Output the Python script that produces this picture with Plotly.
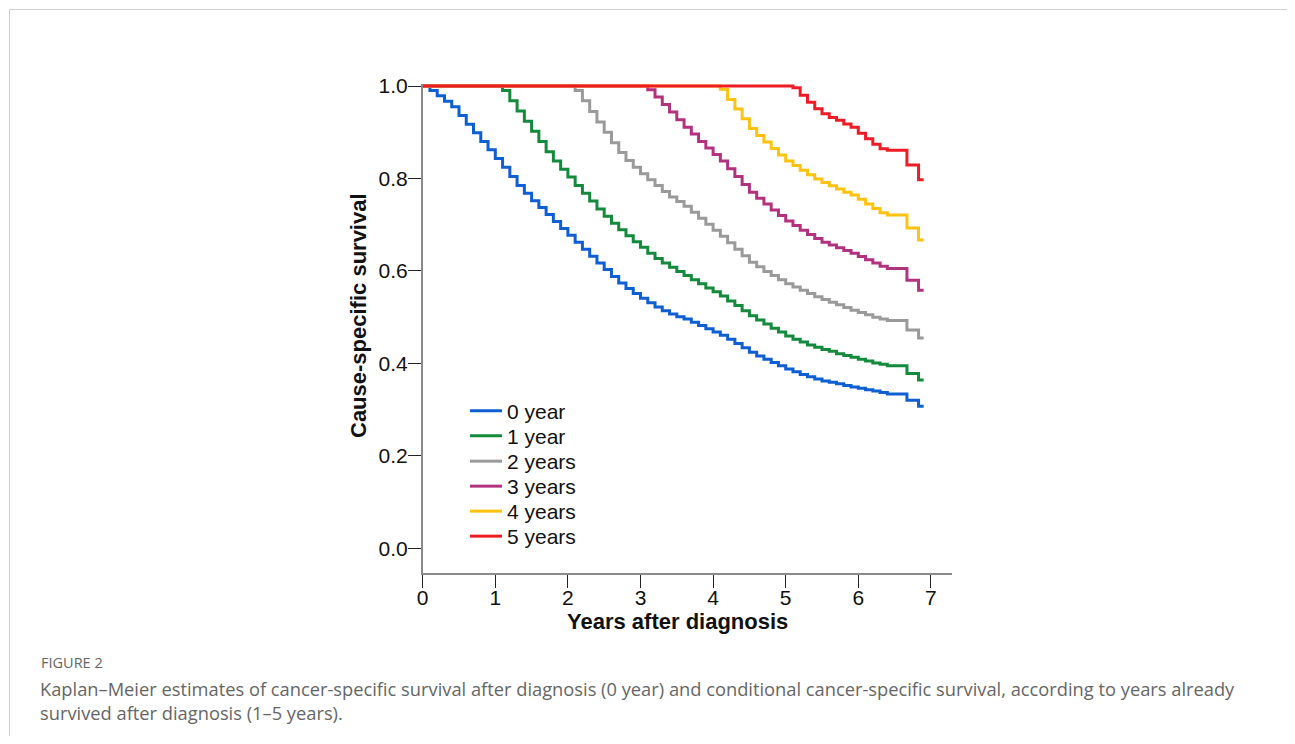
import plotly.graph_objects as go

# page is 1295x744; body keeps its default 8px margin, so the figure starts at (8, 8)
W, H = 1287, 728
OFF = 8

# ---------------- data ----------------
series_names = ["0 year", "1 year", "2 years", "3 years", "4 years", "5 years"]
series_colors = ["#0f5fd4", "#138a3c", "#9a9a9a", "#b3327f", "#ffc20e", "#ee1c25"]

t_0y = [0.0, 0.1, 0.2, 0.3, 0.4, 0.5, 0.6, 0.7, 0.8, 0.9, 1.0, 1.1, 1.2, 1.3, 1.4, 1.5, 1.6, 1.7,
        1.8, 1.9, 2.0, 2.1, 2.2, 2.3, 2.4, 2.5, 2.6, 2.7, 2.8, 2.9, 3.0, 3.1, 3.2, 3.3, 3.4, 3.5,
        3.6, 3.7, 3.8, 3.9, 4.0, 4.1, 4.2, 4.3, 4.4, 4.5, 4.6, 4.7, 4.8, 4.9, 5.0, 5.1, 5.2, 5.3,
        5.4, 5.5, 5.6, 5.7, 5.8, 5.9, 6.0, 6.1, 6.2, 6.3, 6.4, 6.67, 6.83, 6.90]
s_0y = [1.000, 0.990, 0.979, 0.967, 0.955, 0.936, 0.917, 0.899, 0.880, 0.862, 0.843, 0.824, 0.804,
        0.785, 0.768, 0.752, 0.737, 0.722, 0.707, 0.692, 0.677, 0.662, 0.647, 0.632, 0.617, 0.603,
        0.588, 0.574, 0.562, 0.551, 0.541, 0.531, 0.522, 0.514, 0.507, 0.501, 0.496, 0.489, 0.482,
        0.475, 0.468, 0.461, 0.452, 0.443, 0.434, 0.424, 0.416, 0.409, 0.402, 0.395, 0.388, 0.382,
        0.376, 0.371, 0.366, 0.362, 0.359, 0.356, 0.352, 0.349, 0.346, 0.343, 0.340, 0.337, 0.334,
        0.320, 0.307, 0.307]

t_1y = [0.0, 1.1, 1.2, 1.3, 1.4, 1.5, 1.6, 1.7, 1.8, 1.9, 2.0, 2.1, 2.2, 2.3, 2.4, 2.5, 2.6, 2.7,
        2.8, 2.9, 3.0, 3.1, 3.2, 3.3, 3.4, 3.5, 3.6, 3.7, 3.8, 3.9, 4.0, 4.1, 4.2, 4.3, 4.4, 4.5,
        4.6, 4.7, 4.8, 4.9, 5.0, 5.1, 5.2, 5.3, 5.4, 5.5, 5.6, 5.7, 5.8, 5.9, 6.0, 6.1, 6.2, 6.3,
        6.4, 6.67, 6.83, 6.90]
s_1y = [1.000, 0.990, 0.968, 0.946, 0.924, 0.902, 0.880, 0.858, 0.838, 0.820, 0.803, 0.785, 0.768,
        0.751, 0.734, 0.718, 0.703, 0.689, 0.676, 0.663, 0.651, 0.638, 0.627, 0.617, 0.608, 0.599,
        0.590, 0.581, 0.572, 0.563, 0.555, 0.546, 0.535, 0.525, 0.514, 0.503, 0.494, 0.485, 0.476,
        0.468, 0.459, 0.452, 0.446, 0.440, 0.435, 0.430, 0.426, 0.421, 0.417, 0.413, 0.409, 0.405,
        0.401, 0.398, 0.395, 0.378, 0.364, 0.364]

t_2y = [0.0, 2.1, 2.2, 2.3, 2.4, 2.5, 2.6, 2.7, 2.8, 2.9, 3.0, 3.1, 3.2, 3.3, 3.4, 3.5, 3.6, 3.7,
        3.8, 3.9, 4.0, 4.1, 4.2, 4.3, 4.4, 4.5, 4.6, 4.7, 4.8, 4.9, 5.0, 5.1, 5.2, 5.3, 5.4, 5.5,
        5.6, 5.7, 5.8, 5.9, 6.0, 6.1, 6.2, 6.3, 6.4, 6.67, 6.83, 6.90]
s_2y = [1.000, 0.990, 0.968, 0.945, 0.922, 0.900, 0.877, 0.856, 0.839, 0.824, 0.810, 0.797, 0.785,
        0.772, 0.760, 0.750, 0.740, 0.727, 0.714, 0.701, 0.688, 0.675, 0.661, 0.647, 0.633, 0.619,
        0.609, 0.599, 0.590, 0.581, 0.572, 0.565, 0.558, 0.551, 0.544, 0.538, 0.532, 0.527, 0.521,
        0.515, 0.510, 0.505, 0.500, 0.496, 0.493, 0.472, 0.455, 0.455]

t_3y = [0.0, 3.1, 3.2, 3.3, 3.4, 3.5, 3.6, 3.7, 3.8, 3.9, 4.0, 4.1, 4.2, 4.3, 4.4, 4.5, 4.6, 4.7,
        4.8, 4.9, 5.0, 5.1, 5.2, 5.3, 5.4, 5.5, 5.6, 5.7, 5.8, 5.9, 6.0, 6.1, 6.2, 6.3, 6.4, 6.67,
        6.83, 6.90]
s_3y = [1.000, 0.992, 0.976, 0.960, 0.944, 0.927, 0.911, 0.896, 0.880, 0.866, 0.852, 0.838, 0.821,
        0.804, 0.787, 0.770, 0.757, 0.745, 0.732, 0.720, 0.708, 0.698, 0.688, 0.679, 0.670, 0.662,
        0.656, 0.650, 0.644, 0.638, 0.631, 0.624, 0.617, 0.610, 0.605, 0.580, 0.558, 0.558]

t_4y = [0.0, 4.1, 4.2, 4.3, 4.4, 4.5, 4.6, 4.7, 4.8, 4.9, 5.0, 5.1, 5.2, 5.3, 5.4, 5.5, 5.6, 5.7,
        5.8, 5.9, 6.0, 6.1, 6.2, 6.3, 6.4, 6.67, 6.83, 6.90]
s_4y = [1.000, 0.993, 0.971, 0.950, 0.929, 0.908, 0.893, 0.879, 0.865, 0.851, 0.838, 0.828, 0.818,
        0.808, 0.799, 0.791, 0.784, 0.777, 0.770, 0.764, 0.755, 0.745, 0.735, 0.726, 0.721, 0.693,
        0.667, 0.667]

t_5y = [0.0, 5.1, 5.2, 5.3, 5.4, 5.5, 5.6, 5.7, 5.8, 5.9, 6.0, 6.1, 6.2, 6.3, 6.4, 6.67, 6.83, 6.90]
s_5y = [1.000, 0.996, 0.980, 0.965, 0.951, 0.940, 0.932, 0.926, 0.918, 0.911, 0.898, 0.886, 0.874,
        0.864, 0.861, 0.829, 0.797, 0.797]

x_ticks = [0, 1, 2, 3, 4, 5, 6, 7]
y_ticks = [0.0, 0.2, 0.4, 0.6, 0.8, 1.0]
y_tick_labels = ["0.0", "0.2", "0.4", "0.6", "0.8", "1.0"]

x_title = "Years after diagnosis"
y_title = "Cause-specific survival"
caption_head = "FIGURE 2"
caption_line1 = ("Kaplan\u2013Meier estimates of cancer-specific survival after diagnosis (0 year) and "
                 "conditional cancer-specific survival, according to years already")
caption_line2 = "survived after diagnosis (1\u20135 years)."

times = [t_0y, t_1y, t_2y, t_3y, t_4y, t_5y]
survs = [s_0y, s_1y, s_2y, s_3y, s_4y, s_5y]

# ---------------- layout helpers (page pixel -> paper) ----------------
def px(xp):
    return (xp - OFF) / W

def py(yp):
    return 1 - (yp - OFF) / H

X0_PX, X_UNIT = 422.7, 72.6        # pixel of x=0 and pixels per year
Y0_PX, Y_UNIT = 548.3, 462.3       # pixel of y=0 and pixels per unit survival
X_RIGHT, Y_TOP, Y_BOTTOM = 952, 84, 573

FONT = "Arial, 'Liberation Sans', sans-serif"
CAP_FONT = "'Open Sans', sans-serif"

fig = go.Figure()
legend_ids = ["legend", "legend2", "legend3", "legend4", "legend5", "legend6"]
for i in range(6):
    fig.add_trace(go.Scatter(
        x=times[i], y=survs[i], mode="lines", name=series_names[i],
        line=dict(color=series_colors[i], width=3, shape="hv"),
        legend=legend_ids[i], showlegend=True, hoverinfo="skip",
    ))

legend_rows_y = [411, 436, 461.5, 486.5, 511.5, 536.5]
layout_legends = {}
for i, lid in enumerate(legend_ids):
    layout_legends[lid] = dict(
        x=px(465), xanchor="left", y=py(legend_rows_y[i]), yanchor="middle",
        font=dict(family=FONT, size=21, color="#111"),
        bgcolor="rgba(0,0,0,0)", borderwidth=0, itemwidth=32,
    )

fig.update_layout(
    width=W, height=H,
    margin=dict(l=0, r=0, t=0, b=0, autoexpand=False),
    paper_bgcolor="white", plot_bgcolor="white",
    font=dict(family=FONT, color="#111"),
    showlegend=True,
    **layout_legends,
    xaxis=dict(
        domain=[px(X0_PX), px(X_RIGHT)], range=[0, (X_RIGHT - X0_PX) / X_UNIT],
        tickvals=x_ticks, ticks="outside", ticklen=13, tickwidth=1, tickcolor="#222",
        ticklabelstandoff=-8,
        showline=True, linecolor="#8a8a8a", linewidth=1.5, showgrid=False, zeroline=False,
        tickfont=dict(family=FONT, size=21, color="#111"), automargin=False,
    ),
    yaxis=dict(
        domain=[py(Y_BOTTOM), py(Y_TOP)],
        range=[(Y0_PX - Y_BOTTOM) / Y_UNIT, (Y0_PX - Y_TOP) / Y_UNIT],
        tickvals=y_ticks, ticktext=y_tick_labels, ticks="outside", ticklen=13, tickwidth=1, tickcolor="#222",
        ticklabelstandoff=-4,
        showline=True, linecolor="#8a8a8a", linewidth=1.5, showgrid=False, zeroline=False,
        tickfont=dict(family=FONT, size=21, color="#111"), automargin=False,
    ),
    shapes=[dict(type="rect", xref="paper", yref="paper",
                 x0=px(9.5), x1=px(1293.5), y0=py(800), y1=py(9.5),
                 line=dict(color="#cfcfcf", width=1), fillcolor="rgba(0,0,0,0)", layer="below")],
    annotations=[
        dict(text="<b>" + x_title + "</b>", xref="paper", yref="paper", x=px(677), y=py(621),
             xanchor="center", yanchor="middle", showarrow=False,
             font=dict(family=FONT, size=22, color="#111")),
        dict(text="<b>" + y_title + "</b>", xref="paper", yref="paper", x=px(358), y=py(316),
             xanchor="center", yanchor="middle", showarrow=False, textangle=-90,
             font=dict(family=FONT, size=22, color="#111")),
        dict(text=caption_head, xref="paper", yref="paper", x=px(39), y=py(662),
             xanchor="left", yanchor="middle", showarrow=False,
             font=dict(family=CAP_FONT, size=14.5, color="#666")),
        dict(text=caption_line1, xref="paper", yref="paper", x=px(38), y=py(688),
             xanchor="left", yanchor="middle", showarrow=False,
             font=dict(family=CAP_FONT, size=18.3, color="#666")),
        dict(text=caption_line2, xref="paper", yref="paper", x=px(38), y=py(712),
             xanchor="left", yanchor="middle", showarrow=False,
             font=dict(family=CAP_FONT, size=18.3, color="#666")),
    ],
)

fig.write_html("out.html", config={"displayModeBar": False})
